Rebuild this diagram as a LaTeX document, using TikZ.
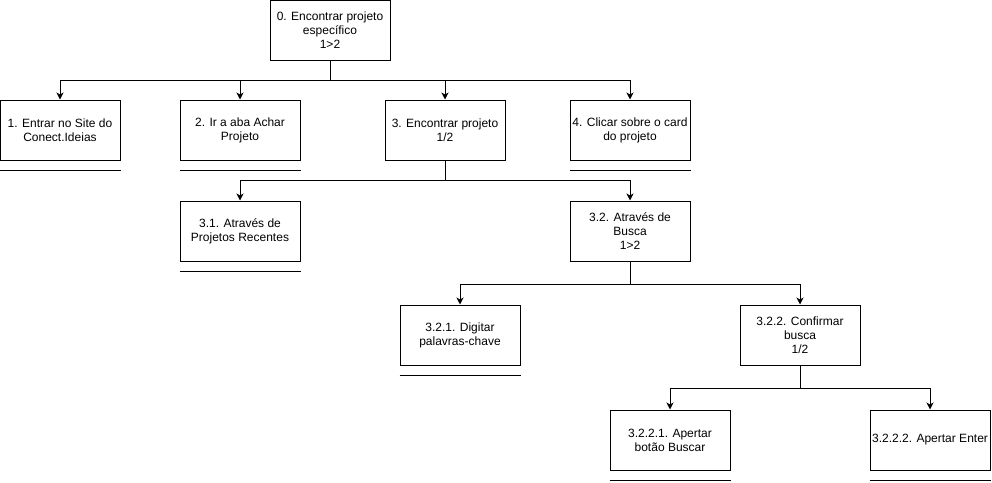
\documentclass[tikz,border=0pt]{standalone}
\usepackage{fontspec}
\setmainfont{Liberation Sans}
\usepackage{tikz}
\usetikzlibrary{positioning, arrows.meta}
\tikzset{
  task/.style  = {rectangle, draw=black, line width=1pt, fill=white,
                  minimum width=120pt, minimum height=60pt, inner sep=0pt,
                  align=center, font=\fontsize{12}{14}\selectfont},
  ar/.style    = {-{Stealth[length=7pt,width=7pt,inset=2pt]}, line width=1pt, draw=black},
  uline/.style = {line width=1pt, draw=black},
}
\begin{document}
\begin{tikzpicture}[x=1pt, y=-1pt, node distance=40pt]
  \useasboundingbox (0,0) rectangle (992,482);

  \node[task] (t0)  at (330,30)  {0. Encontrar projeto\\espec\'ifico\\1>2};
  \node[task] (t1)  at (60,130)  {1. Entrar no Site do\\Conect.Ideias};
  \node[task] (t2)  at (240,130) {2. Ir a aba Achar\\Projeto};
  \node[task] (t3)  at (445,130) {3. Encontrar projeto\\1/2};
  \node[task] (t4)  at (630,130) {4. Clicar sobre o card\\do projeto};
  \node[task, below=of t2] (t31) {3.1. Atrav\'es de\\Projetos Recentes};
  \node[task, below=of t4] (t32) {3.2. Atrav\'es de\\Busca\\1>2};
  \node[task] (t321) at (460,335) {3.2.1. Digitar\\palavras-chave};
  \node[task] (t322) at (800,335) {3.2.2. Confirmar\\busca\\1/2};
  \node[task] (t3221) at (670,440) {3.2.2.1. Apertar\\bot\~ao Buscar};
  \node[task] (t3222) at (930,440) {3.2.2.2. Apertar Enter};

  % tree connectors
  \foreach \c in {t1, t2, t3, t4}
    \draw[ar] (t0.south) -- ++(0,20) -| (\c.north);
  \foreach \c in {t31, t32}
    \draw[ar] (t3.south) -- ++(0,20) -| (\c.north);
  \foreach \c in {t321, t322}
    \draw[ar] (t32.south) -- ++(0,22.5) -| (\c.north);
  \foreach \c in {t3221, t3222}
    \draw[ar] (t322.south) -- ++(0,22.5) -| (\c.north);

  % end lines under leaf tasks
  \foreach \c in {t1, t2, t4, t31, t321, t3221, t3222}
    \draw[uline] ([yshift=-10pt]\c.south west) -- ([yshift=-10pt]\c.south east);

\end{tikzpicture}
\end{document}
